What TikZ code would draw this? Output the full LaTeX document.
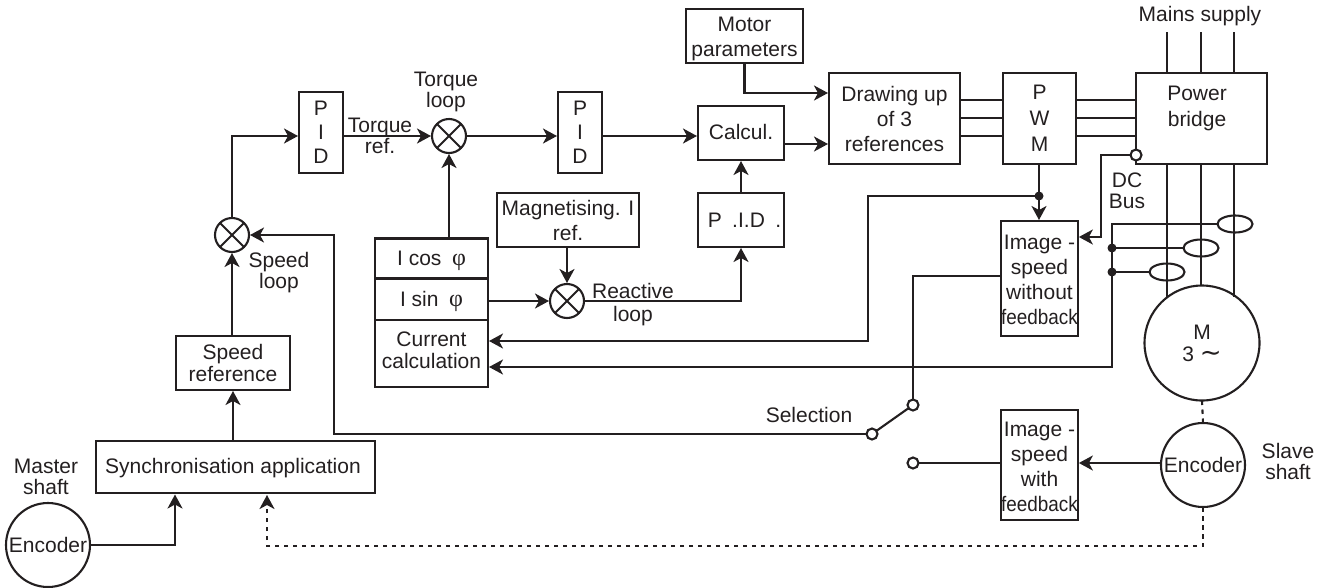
\documentclass[tikz,border=0pt]{standalone}
\usepackage{fontspec}
\usepackage{graphicx}
\setmainfont{Liberation Sans}
\newfontfamily\symfont{Liberation Serif}
\newfontfamily\djv{DejaVu Sans}
\usetikzlibrary{arrows.meta,calc,shapes.geometric}
\definecolor{ink}{HTML}{231F20}
\tikzset{
  every node/.style={font=\fontsize{21}{22}\selectfont,text=ink,inner sep=0pt,outer sep=0pt,align=center},
  wire/.style={line width=2.1pt,draw=ink},
  arr/.style={wire,-{Stealth[length=14pt,width=15pt,inset=4pt]},shorten >=1pt},
  dwire/.style={wire,dash pattern=on 4.5pt off 4.5pt},
  darr/.style={arr,dash pattern=on 4.5pt off 4.5pt},
  blk/.style={draw=ink,line width=2.1pt,rectangle},
  disc/.style={draw=ink,line width=2.1pt,circle},
  summer/.style={disc,minimum size=34pt},
  contact/.style={disc,fill=white,minimum size=11pt},
  junction/.style={circle,fill=ink,minimum size=9pt},
  sensor/.style={draw=ink,line width=2.1pt,ellipse,minimum width=35pt,minimum height=17pt},
  lbl/.style={font=\fontsize{21}{21}\selectfont}
}
\newcommand{\fb}{\scalebox{.9}[1]{feedback}}
\newcommand{\phisym}{{\symfont\fontsize{24}{22}\selectfont φ}}
\newcommand{\lowerby}[2]{\raisebox{-#1}[\height][\depth]{#2}}
\begin{document}
\begin{tikzpicture}[x=1pt,y=-1pt]
\useasboundingbox (0,0) rectangle (1328,587);
% boxes
\node[blk,minimum width=44pt,minimum height=81pt] (pid1) at (321,132.5) {P\\[2pt]I\\[2pt]D};
\node[blk,minimum width=44pt,minimum height=81pt] (pid2) at (580,132.5) {P\\[2pt]I\\[2pt]D};
\node[blk,minimum width=117pt,minimum height=54pt] (motorp) at (744.5,36) {\rule{0pt}{21pt}Motor\\[3pt]parameters};
\node[blk,minimum width=86pt,minimum height=54pt] (calc) at (741,133) {\lowerby{-1pt}{Calcul.}};
\node[blk,minimum width=131pt,minimum height=91pt] (draw3) at (894.5,118.5) {Drawing up\\[3pt]of 3\\[3pt]references};
\node[blk,minimum width=73pt,minimum height=91pt] (pwm) at (1039.5,118.5) {P\\[4pt]W\\[4pt]M};
\node[blk,minimum width=131pt,minimum height=91pt] (power) at (1201.5,118.5) {};
\node[anchor=north] (powertxt) at (1197,86) {Power\\[4pt]bridge};
\node[blk,minimum width=142pt,minimum height=54pt] (magn) at (568,220) {Magnetising. I\\[3pt]ref.};
\node[blk,minimum width=86pt,minimum height=54pt] (pidr) at (741,220) {\kern7pt P\enspace.I.D\enspace.};
\node[blk,minimum width=113pt,minimum height=40pt] (icos) at (431.5,258.5) {\lowerby{2pt}{I cos\enspace\phisym}};
\node[blk,minimum width=113pt,minimum height=42pt] (isin) at (431.5,299) {\lowerby{2pt}{I sin\enspace\phisym}};
\node[blk,minimum width=113pt,minimum height=67pt] (curr) at (431.5,353.5) {};
\node[anchor=north] (currtxt) at (431.5,332) {Current\\calculation};
\node[blk,minimum width=114pt,minimum height=54pt] (sref) at (233,363) {Speed\\reference};
\node[blk,minimum width=279pt,minimum height=52pt] (sync) at (235.5,467) {\lowerby{1pt}{Synchronisation application}\kern5pt};
\node[blk,minimum width=73pt,minimum height=115pt] (img1) at (1039.5,278.5) {\rule{0pt}{17pt}Image -\\[3pt]speed\\[3pt]without\\[3pt]\fb};
\node[blk,minimum width=73pt,minimum height=110pt] (img2) at (1039.5,465) {\rule{0pt}{19pt}Image -\\[3pt]speed\\[3pt]with\\[3pt]\fb};
% round parts
\node[disc,minimum size=115pt] (motor) at (1202,343) {M\\3 {\djv\fontsize{26}{22}\selectfont ∼}};
\node[disc,minimum size=84pt] (encs) at (1203,465) {Encoder};
\node[disc,minimum size=84pt] (encm) at (48,545) {Encoder};
\node[summer] (xs) at (232,235) {};
\draw[wire] ($(xs)+(-12,-12)$) -- ($(xs)+(12,12)$) ($(xs)+(-12,12)$) -- ($(xs)+(12,-12)$);
\node[summer] (xt) at (449,136) {};
\draw[wire] ($(xt)+(-12,-12)$) -- ($(xt)+(12,12)$) ($(xt)+(-12,12)$) -- ($(xt)+(12,-12)$);
\node[summer] (xr) at (567,301) {};
\draw[wire] ($(xr)+(-12,-12)$) -- ($(xr)+(12,12)$) ($(xr)+(-12,12)$) -- ($(xr)+(12,-12)$);
% labels
\node[lbl] (mains) at (1200,16) {Mains supply};
\node[lbl] (dcbus) at (1127,191) {DC\\Bus};
\node[lbl] (tloop) at (446,92) {Torque\\loop};
\node[lbl] (tref) at (380,136) {Torque\\ref.};
\node[lbl] (sloop) at (279,273) {Speed\\loop};
\node[lbl] (rloop) at (633,305) {Reactive\\[2pt]loop};
\node[lbl] (sel) at (809,415) {Selection};
\node[lbl] (mshaft) at (46,477) {Master\\shaft};
\node[lbl] (sshaft) at (1288,461) {Slave\\shaft};
% forward path
\draw[arr] (encm.east) -| (175,493.5);
\draw[darr] (encs.south) |- (267,546) -- (267,494);
\draw[arr] (sync.north -| sref) -- (sref.south);
\draw[arr] (sref.north -| xs) -- (xs.south);
\draw[arr] (xs.north) |- (pid1.west |- xt);
\draw[arr] (pid1.east |- xt) -- (xt.west);
\draw[arr] (xt.east) -- (pid2.west |- xt);
\draw[arr] (icos.north -| xt) -- (xt.south);
\draw[arr] (isin.east |- xr) -- (xr.west);
\draw[arr] (magn.south -| xr) -- (xr.north);
\draw[arr] (xr.east) -| (pidr.south);
\draw[arr] (pidr.north) -- (calc.south);
\draw[arr] (pid2.east |- xt) -- (calc.west |- xt);
\coordinate (c3) at (calc.east |- 0,144);
\draw[arr] (c3) -- (c3 -| draw3.west);
\draw[arr] (motorp.south) |- (draw3.west |- 0,93);
% three-phase links
\foreach \yy in {100,118,136}{
  \draw[wire] (draw3.east |- 0,\yy) -- (pwm.west |- 0,\yy);
  \draw[wire] (pwm.east |- 0,\yy) -- (power.west |- 0,\yy);
}
\foreach \xx in {1167,1201,1234}{
  \draw[wire] (\xx,32) -- (\xx,32 |- power.north);
}
\foreach \xx/\yy in {1167/297,1201/286,1234/297}{
  \draw[wire] (\xx,164) -- (\xx,\yy);
}
% sensors
\node[sensor] (s1) at (1235,224) {};
\node[sensor] (s2) at (1201,248) {};
\node[sensor] (s3) at (1167,272) {};
\node[junction] (j2) at (1112,248) {};
\node[junction] (j3) at (1112,272) {};
\draw[wire] (s1.west) -- (1112,224) -- (j3.center);
\draw[wire] (s2.west) -- (j2.center);
\draw[wire] (s3.west) -- (j3.center);
\draw[arr] (j3.center) |- (curr.east |- 0,367);
% DC bus
\node[contact] (dc) at (1136,155) {};
\draw[arr] (dc.west) -- (1101,155) |- (img1.east |- 0,237);
% PWM to image
\node[junction] (j1) at (1039,196) {};
\draw[arr] (pwm.south -| j1) -- (img1.north -| j1);
\draw[arr] (j1.center) -- (868,196) |- (curr.east |- 0,341);
% switch
\node[contact] (k1) at (913,405) {};
\node[contact] (k2) at (872,434) {};
\node[contact] (k3) at (913,463) {};
\draw[wire] (k1) -- (k2);
\draw[wire] (img1.west |- 0,276) -| (k1.north);
\draw[wire] (k3.east) -- (img2.west |- k3);
\draw[arr] (k2.west) -- (334,434) |- (xs.east);
\draw[arr] (encs.west |- k3) -- (img2.east |- k3);
% shaft
\draw[dwire] (motor.south) -- (encs.north);
\end{tikzpicture}
\end{document}
